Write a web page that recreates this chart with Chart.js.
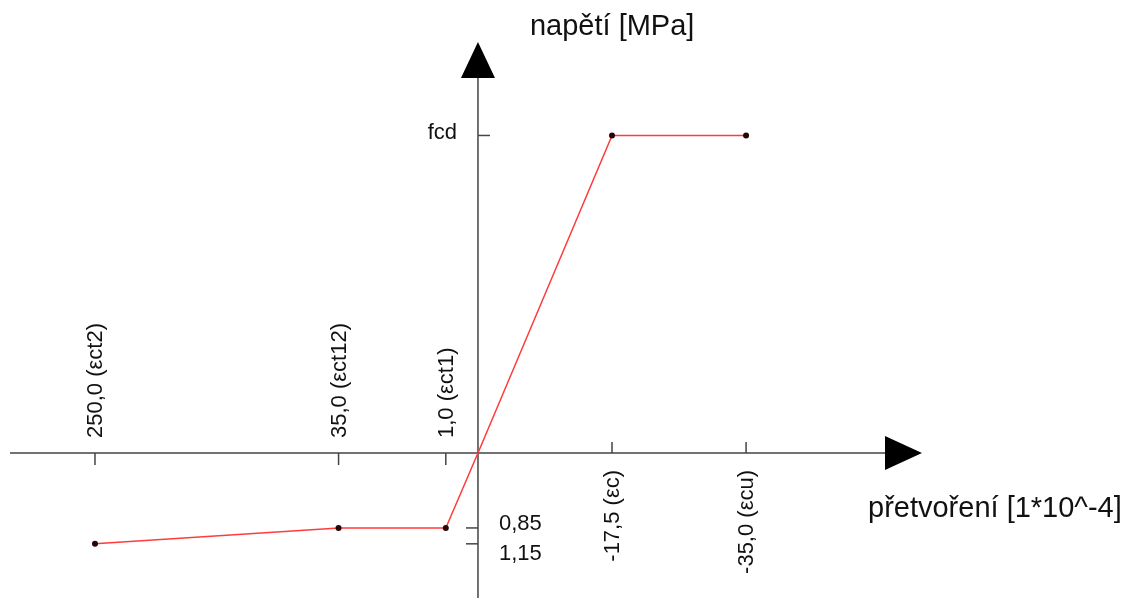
<!DOCTYPE html>
<html>
<head>
<meta charset="utf-8">
<script src="https://cdn.jsdelivr.net/npm/chart.js@4.4.1/dist/chart.umd.min.js"></script>
<style>
  body { margin: 0; background: #fff; }
  #wrap { width: 1126px; height: 600px; }
</style>
</head>
<body>
<div id="wrap"><canvas id="chart"></canvas></div>
<script>
// Schematic stress-strain diagram (positions in diagram units, x reversed: compression to the right)
const xPos = [50, 18.2, 4.2, 0, -17.5, -35];
const yPos = [-1.03, -0.85, -0.85, 0, 3.6, 3.6];
const xTickLabels = ['250,0 (\u03B5ct2)', '35,0 (\u03B5ct12)', '1,0 (\u03B5ct1)', '', '-17,5 (\u03B5c)', '-35,0 (\u03B5cu)'];
const yTickPos = [3.6, -0.85, -1.03];
const yTickLabels = ['fcd', '0,85', '1,15'];
const yTitle = 'napětí [MPa]';
const xTitle = 'přetvoření [1*10^-4]';

const FONT = '"Liberation Sans", Arial, sans-serif';

const axesPlugin = {
    id: 'axes',
    beforeDatasetsDraw(chart) {
        const ctx = chart.ctx;
        const xs = chart.scales.x, ys = chart.scales.y;
        const x0 = xs.getPixelForValue(0);
        const y0 = ys.getPixelForValue(0);
        ctx.save();
        ctx.strokeStyle = '#444';
        ctx.lineWidth = 1.5;

        // axis lines
        ctx.beginPath();
        ctx.moveTo(10, y0); ctx.lineTo(886, y0);
        ctx.moveTo(x0, 598); ctx.lineTo(x0, 78);
        ctx.stroke();

        // arrowheads
        ctx.fillStyle = '#000';
        ctx.beginPath();
        ctx.moveTo(x0, 42); ctx.lineTo(x0 - 17, 78); ctx.lineTo(x0 + 17, 78); ctx.closePath();
        ctx.fill();
        ctx.beginPath();
        ctx.moveTo(922, y0); ctx.lineTo(885, y0 - 17); ctx.lineTo(885, y0 + 17); ctx.closePath();
        ctx.fill();

        // x ticks and rotated labels
        ctx.font = '22px ' + FONT;
        ctx.fillStyle = '#111';
        ctx.textBaseline = 'middle';
        xPos.forEach((v, i) => {
            if (!xTickLabels[i]) return;
            const px = xs.getPixelForValue(v);
            ctx.beginPath();
            if (v > 0) { ctx.moveTo(px, y0); ctx.lineTo(px, y0 + 12); }
            else { ctx.moveTo(px, y0); ctx.lineTo(px, y0 - 11); }
            ctx.stroke();
            ctx.save();
            ctx.translate(px, v > 0 ? y0 - 15 : y0 + 17);
            ctx.rotate(-Math.PI / 2);
            ctx.textAlign = v > 0 ? 'left' : 'right';
            ctx.fillText(xTickLabels[i], 0, 1);
            ctx.restore();
        });

        // y ticks and labels
        const negPx = yTickPos.filter(v => v < 0).map(v => ys.getPixelForValue(v));
        const negMid = negPx.reduce((a, b) => a + b, 0) / negPx.length;
        let n = 0;
        yTickPos.forEach((v, i) => {
            const py = ys.getPixelForValue(v);
            ctx.beginPath();
            if (v > 0) { ctx.moveTo(x0, py); ctx.lineTo(x0 + 12, py); }
            else { ctx.moveTo(x0, py); ctx.lineTo(x0 - 12, py); }
            ctx.stroke();
            if (v > 0) {
                ctx.textAlign = 'right';
                ctx.fillText(yTickLabels[i], x0 - 21, py - 3);
            } else {
                ctx.textAlign = 'left';
                const ly = negMid + 3 + (n - (negPx.length - 1) / 2) * 30;
                ctx.fillText(yTickLabels[i], x0 + 21, ly);
                n++;
            }
        });

        // axis titles
        ctx.font = '29px ' + FONT;
        ctx.textBaseline = 'alphabetic';
        ctx.textAlign = 'left';
        ctx.fillText(yTitle, x0 + 52, 35);
        ctx.fillText(xTitle, 868, y0 + 64);
        ctx.restore();
    }
};

new Chart(document.getElementById('chart'), {
    type: 'scatter',
    data: {
        datasets: [{
            data: xPos.map((x, i) => ({ x: x, y: yPos[i] })),
            showLine: true,
            borderColor: '#ff3b3b',
            borderWidth: 1.5,
            pointRadius: [3, 3, 3, 0, 3, 3],
            pointHoverRadius: 0,
            pointBackgroundColor: '#2a0505',
            pointBorderColor: '#2a0505',
            pointBorderWidth: 0,
            clip: false
        }]
    },
    options: {
        responsive: true,
        maintainAspectRatio: false,
        animation: false,
        layout: { padding: 0, autoPadding: false },
        plugins: { legend: { display: false }, tooltip: { enabled: false } },
        scales: {
            x: { type: 'linear', reverse: true, min: -84.6, max: 62.4, display: false },
            y: { type: 'linear', min: -1.667, max: 5.136, display: false }
        }
    },
    plugins: [axesPlugin]
});
</script>
</body>
</html>
